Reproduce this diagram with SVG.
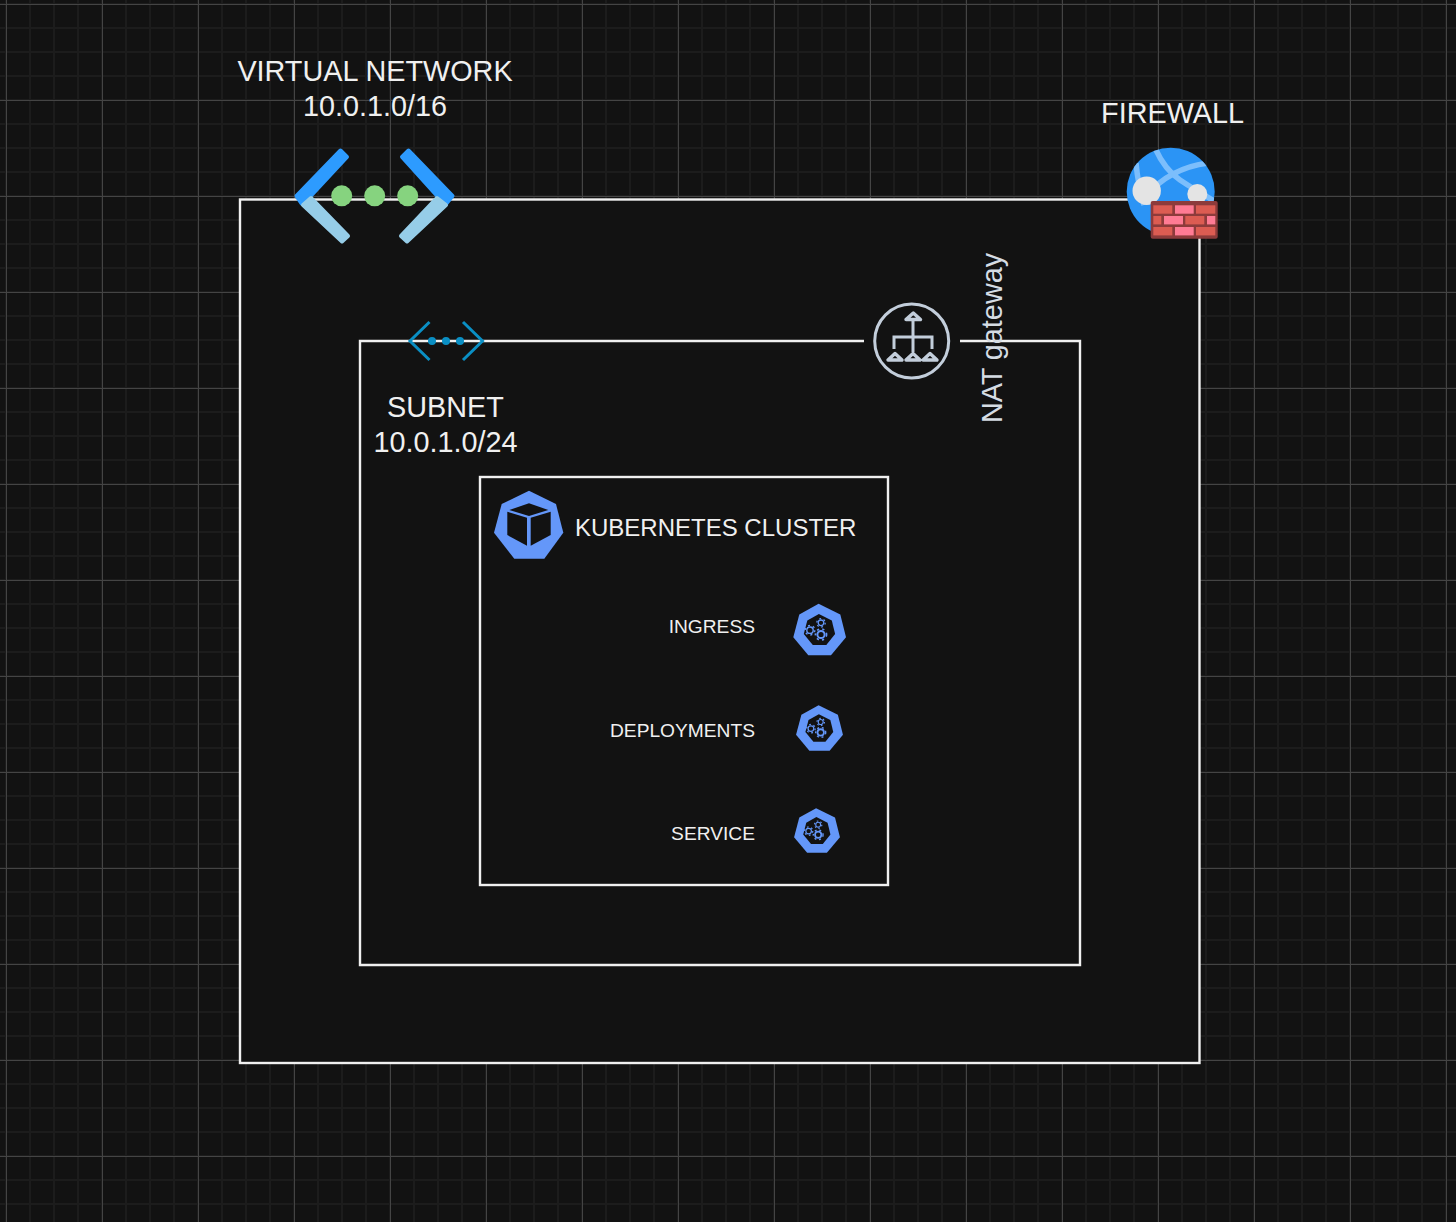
<svg xmlns="http://www.w3.org/2000/svg" width="1456" height="1222" viewBox="0 0 1456 1222">
<style>
text{font-family:"Liberation Sans",Arial,sans-serif;fill:#f0f0f0}
.box{fill:#121212;stroke:#f0f0f0;stroke-width:2.4}
.wire{fill:none;stroke:#f0f0f0;stroke-width:2.4}
.big{font-size:28.8px;text-anchor:middle}
.mid{font-size:24px}
.sm{font-size:19.2px;text-anchor:end}
.natg{fill:none;stroke:#c3cedb;stroke-width:3}
.natf{fill:#121212;stroke:#c3cedb;stroke-width:3.4;stroke-linejoin:round}
.brk{fill:#dc5c52}.brp{fill:#ff7b94}
.vd{fill:#2d9bff;stroke:#2d9bff;stroke-width:4;stroke-linejoin:round}
.vl{fill:#96cde8;stroke:#96cde8;stroke-width:4;stroke-linejoin:round}
.dot{fill:#86d37f}
.sb{fill:none;stroke:#0a8fc4;stroke-width:3}
.sd{fill:#0a8fc4}
</style>
<defs>
<pattern id="gridMinor" width="24" height="24" patternUnits="userSpaceOnUse" x="5" y="3">
<path d="M1 0V24M0 1H24" fill="none" stroke="#1c1c1c" stroke-width="2"/>
</pattern>
<pattern id="gridMajor" width="96" height="96" patternUnits="userSpaceOnUse" x="5" y="3">
<path d="M1.5 0V96M0 1.5H96" fill="none" stroke="#444444" stroke-width="1"/>
</pattern>
<clipPath id="globeClip"><circle cx="1170.7" cy="191.7" r="44"/></clipPath>
<g id="kubeSmall">
<polygon points="-0.7,-25.7 21,-15 26.7,7.7 11.7,25.7 -11,25.7 -26,7.7 -20,-15" fill="#6497f9"/>
<polygon points="-0.4,-15.5 12.5,-9 15.8,4.6 7,15.5 -6.5,15.5 -15.5,4.6 -12,-9" fill="#121212"/>
<g fill="none" stroke="#6497f9">
<circle cx="-9.3" cy="0.7" r="3.2" stroke-width="1.4"/>
<circle cx="-9.3" cy="0.7" r="4.8" stroke-width="1.4" stroke-dasharray="2 3"/>
<circle cx="1.7" cy="-6.7" r="2.8" stroke-width="1.3"/>
<circle cx="1.7" cy="-6.7" r="4.2" stroke-width="1.3" stroke-dasharray="1.8 2.6"/>
<circle cx="1.7" cy="5" r="3.6" stroke-width="2"/>
<circle cx="1.7" cy="5" r="5.6" stroke-width="1.6" stroke-dasharray="2.2 3.2"/>
</g>
</g>
</defs>
<g id="background">
<rect width="1456" height="1222" fill="#121212"/>
<rect width="1456" height="1222" fill="url(#gridMinor)"/>
<rect width="1456" height="1222" fill="url(#gridMajor)"/>
</g>
<g id="virtual-network-box"><rect class="box" x="240" y="199.5" width="959.5" height="863.5"/></g>
<g id="connectors">
<rect x="360" y="341" width="720" height="624" fill="#121212"/>
<path class="wire" d="M864 341H360V965H1080V341H960"/>
</g>
<g id="kubernetes-box"><rect class="box" x="480" y="477" width="408" height="408"/></g>
<g id="virtual-network">
<polygon class="vd" points="296.5,196 340.5,150.5 347,157 311,195.7 302,204"/>
<polygon class="vl" points="303,205 311,198 348,236 342,241.5"/>
<polygon class="vd" points="452.5,196 408.5,150.5 402,157 437,195.7 446,204"/>
<polygon class="vl" points="446,205 437,198 401,236 407,241.5"/>
<circle class="dot" cx="341.7" cy="195.8" r="10.5"/>
<circle class="dot" cx="374.7" cy="195.8" r="10.5"/>
<circle class="dot" cx="407.7" cy="195.8" r="10.5"/>
<text class="big" x="375" y="81">VIRTUAL NETWORK</text>
<text class="big" x="375" y="116">10.0.1.0/16</text>
</g>
<g id="firewall">
<circle cx="1170.7" cy="191.7" r="44" fill="#2b94f5"/>
<g clip-path="url(#globeClip)"><path d="M1155 148Q1165 170 1180 180T1216 202M1136 163Q1138 185 1144 205M1146 196Q1170 168 1208 163" fill="none" stroke="#7cbefc" stroke-width="5.5"/></g>
<circle cx="1146.7" cy="190.7" r="14.2" fill="#e4e4e4"/>
<circle cx="1197.3" cy="194" r="10" fill="#e4e4e4"/>
<rect x="1150.7" y="201" width="67" height="37.7" rx="2" fill="#8d3b3b"/>
<rect class="brk" x="1153.3" y="205.3" width="19" height="8.4"/><rect class="brp" x="1175" y="205.3" width="18.7" height="8.4"/><rect class="brk" x="1196" y="205.3" width="19.3" height="8.4"/>
<rect class="brk" x="1153.3" y="216" width="8" height="8.4"/><rect class="brp" x="1164" y="216" width="19" height="8.4"/><rect class="brk" x="1185.3" y="216" width="19" height="8.4"/><rect class="brp" x="1207" y="216" width="8.3" height="8.4"/>
<rect class="brk" x="1153.3" y="227" width="19" height="8.4"/><rect class="brp" x="1175" y="227" width="18.7" height="8.4"/><rect class="brk" x="1196" y="227" width="19.3" height="8.4"/>
<text class="big" x="1172.6" y="122.6">FIREWALL</text>
</g>
<g id="subnet">
<path class="sb" d="M429.5 322L410 341L429.5 360M463 322L482.5 341L463 360"/>
<circle class="sd" cx="432" cy="341" r="4"/><circle class="sd" cx="446" cy="341" r="4"/><circle class="sd" cx="460" cy="341" r="4"/>
<text class="big" x="445.5" y="417">SUBNET</text>
<text class="big" x="445.5" y="452">10.0.1.0/24</text>
</g>
<g id="nat-gateway">
<circle class="natg" cx="911.7" cy="341" r="37"/>
<path class="natg" d="M913 320V352M894 349V337H932V349"/>
<path class="natf" d="M913.3 313 L920.5 319.5 H906Z"/>
<path class="natf" d="M895 353.5 L902 360H888ZM913 353.5 L920 360H906ZM930 353.5 L937 360H923Z"/>
<text transform="translate(1002 338) rotate(-90)" font-size="28.8" text-anchor="middle" style="fill:#d5dce4">NAT gateway</text>
</g>
<g id="kubernetes-cluster">
<polygon points="529,490.7 556,504 563.3,532.7 544.3,558.7 514.3,558.7 494,532.7 501.7,504" fill="#6497f9"/>
<polygon points="529,503.3 548.3,510 529,516 509.3,510" fill="#121212"/>
<polygon points="507.3,511.7 527,517.7 527,545.7 507.3,535" fill="#121212"/>
<polygon points="530.7,517.7 550.7,511.7 550.7,535 530.7,545.7" fill="#121212"/>
<text class="mid" x="575" y="536">KUBERNETES CLUSTER</text>
</g>
<g id="ingress"><use href="#kubeSmall" transform="translate(819.3 629.5)"/><text class="sm" x="755" y="633">INGRESS</text></g>
<g id="deployments"><use href="#kubeSmall" transform="translate(819.2 728) scale(.89)"/><text class="sm" x="755" y="737">DEPLOYMENTS</text></g>
<g id="service"><use href="#kubeSmall" transform="translate(816.7 830.5) scale(.87)"/><text class="sm" x="755" y="840">SERVICE</text></g>
</svg>
